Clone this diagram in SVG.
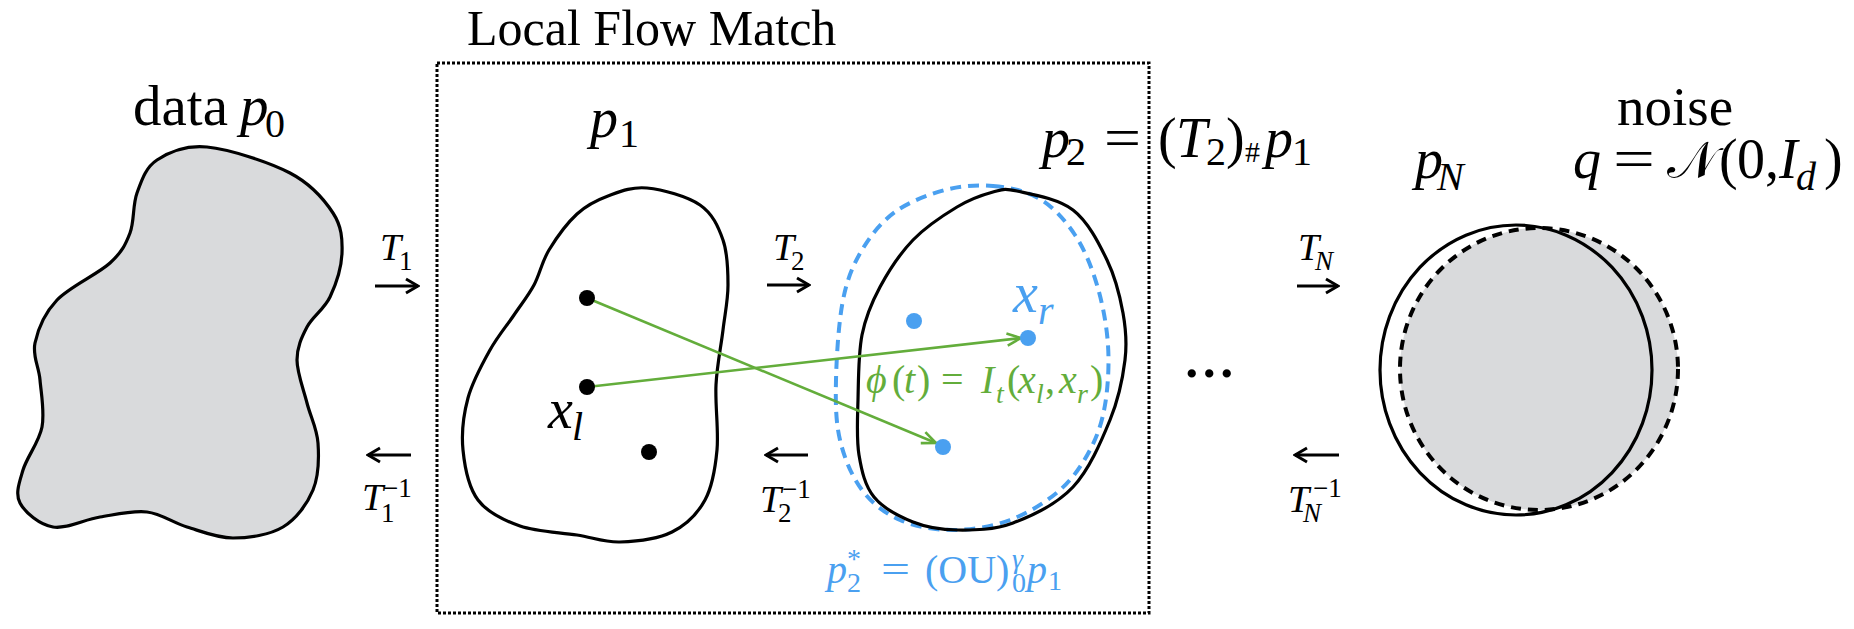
<svg xmlns="http://www.w3.org/2000/svg" width="1854" height="629" viewBox="0 0 1854 629">
<defs>
<style>
.t{font-family:"Liberation Serif","Times New Roman",serif;fill:#000}
.it{font-style:italic}
.blue{fill:#4aa0f0}
.green{fill:#63ad3b}
.blob{stroke:#000;stroke-width:3.2;stroke-linejoin:round}
.arr{fill:none;stroke:#000;stroke-width:3}
.garr{fill:none;stroke:#63ad3b;stroke-width:2.6}
</style>
<marker id="ka" viewBox="0 0 16 18" refX="14" refY="9" markerWidth="16" markerHeight="18" markerUnits="userSpaceOnUse" orient="auto">
<path d="M2,2 L14,9 L2,16" fill="none" stroke="#000" stroke-width="3"/>
</marker>
<marker id="ga" viewBox="0 0 18 16" refX="16" refY="8" markerWidth="18" markerHeight="16" markerUnits="userSpaceOnUse" orient="auto">
<path d="M2,2 L16,8 L2,14" fill="none" stroke="#63ad3b" stroke-width="2.6"/>
</marker>
</defs>
<rect width="1854" height="629" fill="#fff"/>

<g id="local-flow-match-box">
<rect x="437" y="63" width="712" height="550" fill="none" stroke="#000" stroke-width="3" stroke-dasharray="3 2"/>
<text class="t" x="467" y="45" font-size="50">Local Flow Match</text>
</g>

<g id="node-data">
<path class="blob" fill="#d9dadc" d="M207,147 C229.2,149.2 269,162 290,173 C311,184 324.3,199.7 333,213 C341.7,226.3 342.5,239 342,253 C341.5,267 335.8,284.7 330,297 C324.2,309.3 312.5,316.5 307,327 C301.5,337.5 297,347.3 297,360 C297,372.7 303.5,389.2 307,403 C310.5,416.8 317,428.5 318,443 C319,457.5 318.8,476 313,490 C307.2,504 296.3,519 283,527 C269.7,535 249,538 233,538 C217,538 201.3,531.3 187,527 C172.7,522.7 161.5,513.7 147,512 C132.5,510.3 115.7,514.5 100,517 C84.3,519.5 66.3,529.3 53,527 C39.7,524.7 25,512.5 20,503 C15,493.5 19.3,482.7 23,470 C26.7,457.3 39.2,442 42,427 C44.8,412 41.2,394 40,380 C38.8,366 32.2,356.3 35,343 C37.8,329.7 44.5,313.3 57,300 C69.5,286.7 97.8,274.2 110,263 C122.2,251.8 125.5,244.7 130,233 C134.5,221.3 132.5,205.2 137,193 C141.5,180.8 145.3,167.7 157,160 C168.7,152.3 184.8,144.8 207,147 Z"/>
<text class="t" x="133" y="125" font-size="57">data</text>
<text class="t it" x="240" y="125" font-size="57">p</text>
<text class="t" x="265" y="137" font-size="40">0</text>
</g>

<g id="node-p1">
<path class="blob" fill="none" d="M647,188 C662.3,189.5 687.3,196.3 700,205 C712.7,213.7 718.3,226.7 723,240 C727.7,253.3 728,270 728,285 C728,300 725,313.3 723,330 C721,346.7 717,365 716,385 C715,405 718.8,430.8 717,450 C715.2,469.2 712.5,486.3 705,500 C697.5,513.7 686.2,525 672,532 C657.8,539 635.8,541.5 620,542 C604.2,542.5 593.7,537.7 577,535 C560.3,532.3 536.5,531.8 520,526 C503.5,520.2 487.5,512.7 478,500 C468.5,487.3 464.7,467 463,450 C461.3,433 463.5,414.7 468,398 C472.5,381.3 482.3,363.8 490,350 C497.7,336.2 506.7,325.8 514,315 C521.3,304.2 528.2,295.8 534,285 C539.8,274.2 541.8,261.8 549,250 C556.2,238.2 567.2,223 577,214 C586.8,205 596.3,200.3 608,196 C619.7,191.7 631.7,186.5 647,188 Z"/>
<text class="t it" x="590" y="137" font-size="56">p</text>
<text class="t" x="619" y="147" font-size="40">1</text>
<text class="t it" x="548" y="428" font-size="56">x</text>
<text class="t it" x="572" y="440" font-size="40">l</text>
</g>

<g id="node-p2">
<path fill="none" stroke="#4aa0f0" stroke-width="4" stroke-dasharray="11 7" d="M993,186 C1008.8,187.5 1026.3,190.8 1040,199 C1053.7,207.2 1065.5,220.7 1075,235 C1084.5,249.3 1091.5,266.7 1097,285 C1102.5,303.3 1106.7,325 1108,345 C1109.3,365 1108,387.5 1105,405 C1102,422.5 1097.5,435.8 1090,450 C1082.5,464.2 1073.3,478.3 1060,490 C1046.7,501.7 1027.8,513.3 1010,520 C992.2,526.7 971.3,530 953,530 C934.7,530 915.2,526.7 900,520 C884.8,513.3 872,503.3 862,490 C852,476.7 844.3,458.3 840,440 C835.7,421.7 835.5,403.3 836,380 C836.5,356.7 838.7,321.7 843,300 C847.3,278.3 853.3,264.7 862,250 C870.7,235.3 881.2,222 895,212 C908.8,202 928.7,194.3 945,190 C961.3,185.7 977.2,184.5 993,186 Z"/>
<path class="blob" fill="none" d="M1017,191 C1030.3,194 1058,198.5 1073,210 C1088,221.5 1098.7,242.8 1107,260 C1115.3,277.2 1120,296.3 1123,313 C1126,329.7 1127.2,342.2 1125,360 C1122.8,377.8 1118.7,398.8 1110,420 C1101.3,441.2 1089.2,469.8 1073,487 C1056.8,504.2 1032.3,515.8 1013,523 C993.7,530.2 973.7,530.2 957,530 C940.3,529.8 926.8,527.5 913,522 C899.2,516.5 883,508.2 874,497 C865,485.8 861.7,471.2 859,455 C856.3,438.8 857.5,420 858,400 C858.5,380 858.3,353.8 862,335 C865.7,316.2 871.5,302.8 880,287 C888.5,271.2 900.2,253.3 913,240 C925.8,226.7 943.7,215 957,207 C970.3,199 983,194.7 993,192 C1003,189.3 1003.7,188 1017,191 Z"/>
<text class="t it" x="1042" y="157" font-size="56">p</text>
<text class="t" x="1066" y="165" font-size="40">2</text>
<text class="t" x="1104" y="157" font-size="58" textLength="37" lengthAdjust="spacingAndGlyphs">=</text>
<text class="t" x="1158" y="157" font-size="56">(</text>
<text class="t it" x="1176" y="157" font-size="56">T</text>
<text class="t" x="1206" y="165" font-size="40">2</text>
<text class="t" x="1226" y="157" font-size="56">)</text>
<text class="t" x="1245" y="162" font-size="30">#</text>
<text class="t it" x="1265" y="157" font-size="56">p</text>
<text class="t" x="1292" y="165" font-size="40">1</text>
<text class="t it blue" x="1013" y="312" font-size="56">x</text>
<text class="t it blue" x="1038" y="324" font-size="40">r</text>
<text class="t it blue" x="827" y="583" font-size="40">p</text>
<text class="t blue" x="847" y="568" font-size="28">*</text>
<text class="t blue" x="847" y="592" font-size="28">2</text>
<text class="t blue" x="881" y="583" font-size="40" textLength="29" lengthAdjust="spacingAndGlyphs">=</text>
<text class="t blue" x="925" y="583" font-size="40">(OU)</text>
<text class="t it blue" x="1012" y="568" font-size="28">γ</text>
<text class="t blue" x="1012" y="592" font-size="28">0</text>
<text class="t it blue" x="1027" y="583" font-size="40">p</text>
<text class="t blue" x="1048" y="590" font-size="28">1</text>
</g>

<g id="connectors">
<path class="arr" marker-end="url(#ka)" d="M375,286 H418"/>
<path class="arr" marker-end="url(#ka)" d="M411,455 H368"/>
<path class="arr" marker-end="url(#ka)" d="M767,285 H809"/>
<path class="arr" marker-end="url(#ka)" d="M808,455 H766"/>
<path class="arr" marker-end="url(#ka)" d="M1297,286 H1338"/>
<path class="arr" marker-end="url(#ka)" d="M1339,455 H1295"/>
<line class="garr" x1="587" y1="298" x2="936" y2="443" marker-end="url(#ga)"/>
<line class="garr" x1="587" y1="387" x2="1021" y2="338" marker-end="url(#ga)"/>
</g>

<g id="transition-labels">
<text class="t it" x="380" y="260" font-size="38">T</text>
<text class="t" x="399" y="270" font-size="27">1</text>
<text class="t it" x="362" y="510" font-size="38">T</text>
<text class="t" x="383" y="497" font-size="27">−1</text>
<text class="t" x="381" y="522" font-size="27">1</text>
<text class="t it" x="773" y="260" font-size="38">T</text>
<text class="t" x="791" y="270" font-size="27">2</text>
<text class="t it" x="760" y="512" font-size="38">T</text>
<text class="t" x="782" y="498" font-size="27">−1</text>
<text class="t" x="778" y="522" font-size="27">2</text>
<text class="t it" x="1298" y="260" font-size="38">T</text>
<text class="t it" x="1315" y="270" font-size="27">N</text>
<text class="t it" x="1288" y="512" font-size="38">T</text>
<text class="t" x="1313" y="497" font-size="27">−1</text>
<text class="t it" x="1303" y="522" font-size="27">N</text>
<text class="t" x="1183" y="377" font-size="70">...</text>
</g>

<g id="points">
<circle cx="587" cy="298" r="8" fill="#000"/>
<circle cx="587" cy="387" r="8" fill="#000"/>
<circle cx="649" cy="452" r="8" fill="#000"/>
<circle cx="914" cy="321" r="8" fill="#4aa0f0"/>
<circle cx="1028" cy="338" r="8" fill="#4aa0f0"/>
<circle cx="943" cy="447" r="8" fill="#4aa0f0"/>
</g>

<g id="interp-label">
<text class="t green" font-size="40" y="393"><tspan class="it" x="866">ϕ</tspan><tspan x="892">(</tspan><tspan class="it" x="904">t</tspan><tspan x="917">)</tspan><tspan x="941">=</tspan><tspan class="it" x="981">I</tspan><tspan x="1007">(</tspan><tspan class="it" x="1018">x</tspan><tspan x="1045">,</tspan><tspan class="it" x="1059">x</tspan><tspan x="1090">)</tspan></text>
<text class="t it green" font-size="28" y="403"><tspan x="996">t</tspan><tspan x="1036">l</tspan><tspan x="1077">r</tspan></text>
</g>

<g id="node-noise">
<ellipse cx="1539" cy="369" rx="139" ry="141" fill="#d9dadc" stroke="#000" stroke-width="4" stroke-dasharray="10 7"/>
<ellipse cx="1516" cy="370" rx="136" ry="145" fill="none" stroke="#000" stroke-width="3.2"/>
<text class="t it" x="1415" y="178" font-size="56">p</text>
<text class="t it" x="1437" y="190" font-size="40">N</text>
<text class="t" x="1617" y="125" font-size="55">noise</text>
<text class="t it" x="1573" y="178" font-size="56">q</text>
<text class="t" x="1613" y="178" font-size="58" textLength="42" lengthAdjust="spacingAndGlyphs">=</text>
<text class="t" x="1667" y="178" font-size="52" font-family="'DejaVu Serif','Noto Sans',serif">𝒩</text>
<text class="t" x="1719" y="178" font-size="56">(</text>
<text class="t" x="1737" y="178" font-size="56">0,</text>
<text class="t it" x="1779" y="178" font-size="56">I</text>
<text class="t it" x="1796" y="190" font-size="40">d</text>
<text class="t" x="1824" y="178" font-size="56">)</text>
</g>
</svg>
